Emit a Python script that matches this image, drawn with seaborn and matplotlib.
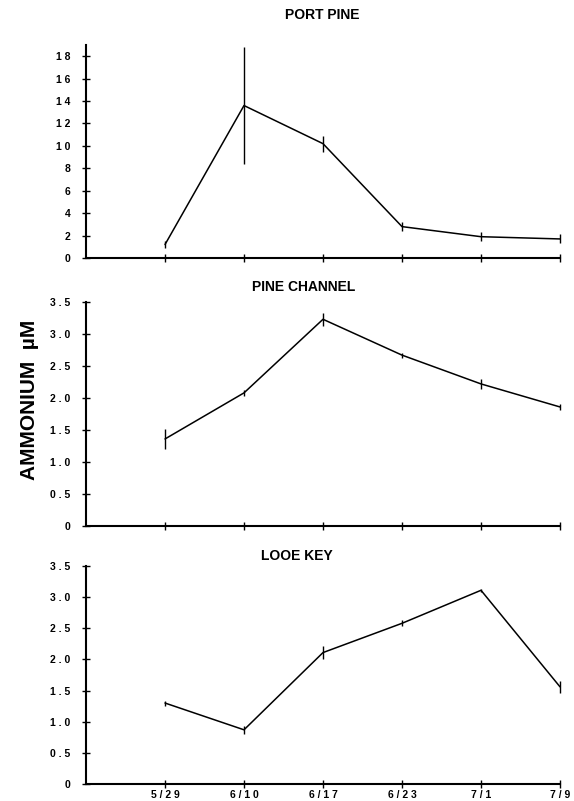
import matplotlib
matplotlib.use("Agg")
import matplotlib.pyplot as plt
import seaborn as sns
import pandas as pd
import numpy as np

dates = ["5/29", "6/10", "6/17", "6/23", "7/1", "7/9"]
date_labels = ["5 / 2 9", "6 / 1 0", "6 / 1 7", "6 / 2 3", "7 / 1", "7 / 9"]

port_pine_mean = [1.2, 13.6, 10.2, 2.8, 1.9, 1.7]
port_pine_err = [0.3, 5.2, 0.7, 0.4, 0.4, 0.4]
pine_channel_mean = [1.36, 2.08, 3.23, 2.67, 2.22, 1.86]
pine_channel_err = [0.15, 0.05, 0.1, 0.04, 0.08, 0.05]
looe_key_mean = [1.30, 0.87, 2.11, 2.58, 3.11, 1.56]
looe_key_err = [0.04, 0.06, 0.1, 0.05, 0.02, 0.1]

titles = ["PORT PINE", "PINE CHANNEL", "LOOE KEY"]
yticks_pp = [0, 2, 4, 6, 8, 10, 12, 14, 16, 18]
ytick_labels_pp = ["0", "2", "4", "6", "8", "1 0", "1 2", "1 4", "1 6", "1 8"]
yticks_small = [0, 0.5, 1.0, 1.5, 2.0, 2.5, 3.0, 3.5]
ytick_labels_small = ["0", "0 . 5", "1 . 0", "1 . 5", "2 . 0", "2 . 5", "3 . 0", "3 . 5"]

sns.set_theme(style="ticks")
plt.rcParams['font.family'] = ['Liberation Sans', 'DejaVu Sans']
plt.rcParams['text.color'] = 'black'
plt.rcParams['xtick.color'] = 'black'
plt.rcParams['ytick.color'] = 'black'

fig = plt.figure(figsize=(5.74, 8.01), dpi=100)
W, H = 574, 801

def px_axes(left, right, top, bottom):
    return fig.add_axes([left / W, 1 - bottom / H, (right - left) / W, (bottom - top) / H])

panels = [
    (port_pine_mean, port_pine_err, (0, 19), yticks_pp, ytick_labels_pp, (86, 560, 45, 258), (322, 15)),
    (pine_channel_mean, pine_channel_err, (0, 3.5), yticks_small, ytick_labels_small, (86, 560, 302, 526), (304, 287)),
    (looe_key_mean, looe_key_err, (0, 3.5), yticks_small, ytick_labels_small, (86, 560, 566, 784), (297, 556)),
]

for i, (m, e, ylim, yt, ytl, box, tpos) in enumerate(panels):
    ax = px_axes(*box)
    df = pd.DataFrame({"pos": np.arange(1, len(dates) + 1), "value": m, "err": e})
    sns.lineplot(data=df, x="pos", y="value", ax=ax, color="black", linewidth=1.1, clip_on=False)
    ax.errorbar(df["pos"], df["value"], yerr=df["err"], fmt="none", ecolor="black",
                elinewidth=1.0, capsize=0, clip_on=False)
    ax.set_xlim(0, 6)
    ax.set_ylim(*ylim)
    ax.set_xticks(range(1, 7))
    if i == 2:
        ax.set_xticklabels(date_labels, fontsize=7.5, fontweight="bold")
    else:
        ax.set_xticklabels([])
    ax.set_yticks(yt)
    ax.set_yticklabels(ytl, fontsize=7.5, fontweight="bold")
    ax.tick_params(direction="inout", length=6, width=1.0, colors="black", pad=8)
    ax.tick_params(axis="x", pad=1)
    ax.set_xlabel("")
    ax.set_ylabel("")
    for s in ["top", "right"]:
        ax.spines[s].set_visible(False)
    for s in ["left", "bottom"]:
        ax.spines[s].set_linewidth(1.5)
        ax.spines[s].set_color("black")
    ax.set_facecolor("white")
    fig.text(tpos[0] / W, 1 - tpos[1] / H, titles[i], ha="center", va="center",
             fontsize=10, fontweight="bold", color="black")

fig.text(30 / W, 1 - 400 / H, "AMMONIUM  µM", rotation=90, ha="center", va="center",
         fontsize=15, fontweight="bold", color="black")

fig.savefig("out.png", dpi=100, facecolor="white")
